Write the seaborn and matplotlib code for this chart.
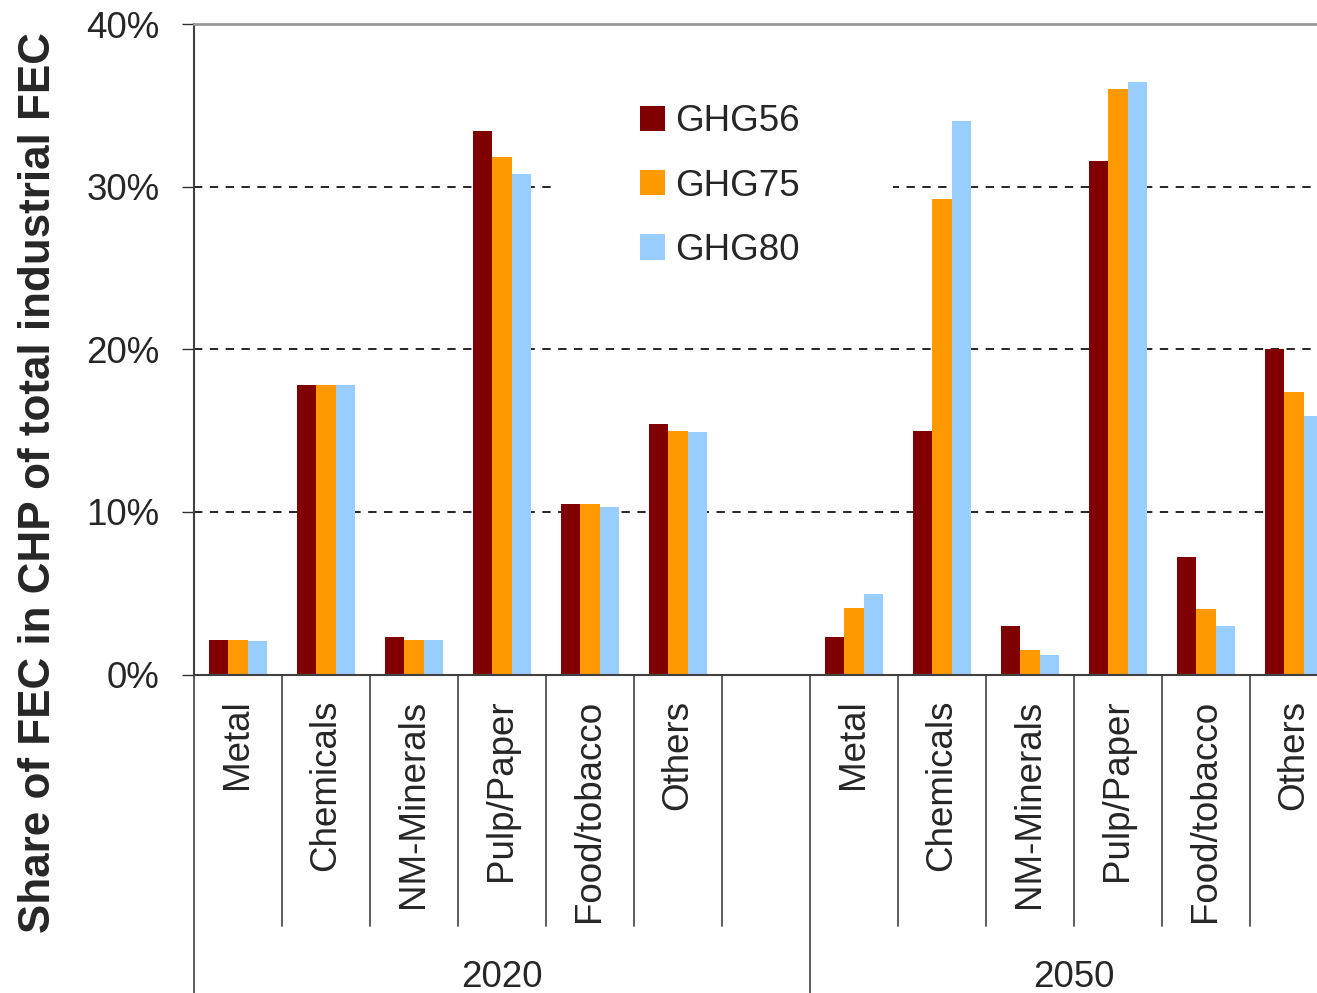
import pandas as pd
import matplotlib
matplotlib.use('Agg')
import matplotlib.pyplot as plt
import matplotlib.transforms as mtransforms
from matplotlib.patches import Rectangle
import seaborn as sns

# dados (em %)
sectors = ['Metal', 'Chemicals', 'NM-Minerals', 'Pulp/Paper', 'Food/tobacco', 'Others']
years = ['2020', '2050']
scenarios = ['GHG56', 'GHG75', 'GHG80']
ghg56_2020 = [2.15, 17.8, 2.3, 33.4, 10.5, 15.4]
ghg75_2020 = [2.15, 17.8, 2.15, 31.85, 10.5, 15.0]
ghg80_2020 = [2.05, 17.8, 2.15, 30.8, 10.3, 14.9]
ghg56_2050 = [2.3, 15.0, 3.0, 31.55, 7.25, 20.0]
ghg75_2050 = [4.1, 29.25, 1.5, 36.0, 4.0, 17.4]
ghg80_2050 = [4.95, 34.05, 1.2, 36.45, 3.0, 15.9]
colors = ['#800000', '#FF9900', '#99CCFF']

rows = []
series = {('2020', 'GHG56'): ghg56_2020, ('2020', 'GHG75'): ghg75_2020, ('2020', 'GHG80'): ghg80_2020,
          ('2050', 'GHG56'): ghg56_2050, ('2050', 'GHG75'): ghg75_2050, ('2050', 'GHG80'): ghg80_2050}
for (ano, cen), vals in series.items():
    for setor, v in zip(sectors, vals):
        rows.append({'slot': ano + '|' + setor, 'cenario': cen, 'valor': v})
df = pd.DataFrame(rows)

# ordem das colunas com um espaco vazio entre os anos
order = ['2020|' + s for s in sectors] + ['gap'] + ['2050|' + s for s in sectors]
tick_labels = sectors + [''] + sectors

sns.set_style('white')
plt.rcParams['font.family'] = ['Liberation Sans', 'DejaVu Sans']

fig = plt.figure(figsize=(13.17, 9.93), dpi=100)
ax = fig.add_axes([194 / 1317, 318.5 / 993, 1144 / 1317, 650.5 / 993])

sns.barplot(data=df, x='slot', y='valor', hue='cenario', order=order, hue_order=scenarios,
            palette=colors, width=0.67, errorbar=None, saturation=1, linewidth=0, ax=ax, zorder=2)

ax.set_xlim(-0.5, 12.5)
ax.set_ylim(0, 40)
ax.set_yticks([0, 10, 20, 30, 40])
ax.set_yticklabels([f'{t}%' for t in [0, 10, 20, 30, 40]])
ax.set_xticks(range(13))
ax.set_xticklabels(tick_labels, rotation=90)
ax.set_xlabel('')
ax.set_ylabel('')
ax.tick_params(axis='x', length=0, pad=18, labelsize=26.5)
ax.tick_params(axis='y', left=True, direction='out', length=8.6, width=1, color='#303030',
               pad=16, labelsize=26.5)

for y in [10, 20, 30]:
    ax.axhline(y, color='black', lw=1.2, ls=(0, (5, 4.5)), zorder=1)

for lado in ['left', 'bottom']:
    ax.spines[lado].set_color('#404040')
    ax.spines[lado].set_linewidth(1.5)
ax.spines['top'].set_color('#999999')
ax.spines['top'].set_linewidth(2)
ax.spines['right'].set_visible(False)

# linhas separadoras abaixo do eixo
trans = mtransforms.blended_transform_factory(ax.transData, ax.transAxes)
for k in range(14):
    xb = k - 0.5
    y_end = -0.489 if k in (0, 7) else -0.387
    ax.plot([xb, xb], [0, y_end], transform=trans, color='#404040', lw=1.2, clip_on=False)

ax.text(3.0, -0.466, years[0], transform=trans, ha='center', va='center', fontsize=26.5)
ax.text(9.5, -0.466, years[1], transform=trans, ha='center', va='center', fontsize=26.5)

fig.text(0.029, 0.514, 'Share of FEC in CHP of total industrial FEC', rotation=90,
         ha='center', va='center', fontsize=31.7, fontweight='bold')

# fundo branco da legenda (tapa a linha de 30%)
ax.add_patch(Rectangle((555 / 1317, 1 - 300 / 993), 338 / 1317, 230 / 993, transform=fig.transFigure,
                       facecolor='white', edgecolor='none', zorder=1.5))

leg = ax.legend(loc='center', bbox_to_anchor=(720 / 1317, 1 - 186 / 993), bbox_transform=fig.transFigure,
                frameon=False, fontsize=26.5, handlelength=0.68, handleheight=0.68,
                handletextpad=0.28, labelspacing=0.8, borderpad=2.2)
leg.set_zorder(5)

plt.savefig('out.png', dpi=100)
